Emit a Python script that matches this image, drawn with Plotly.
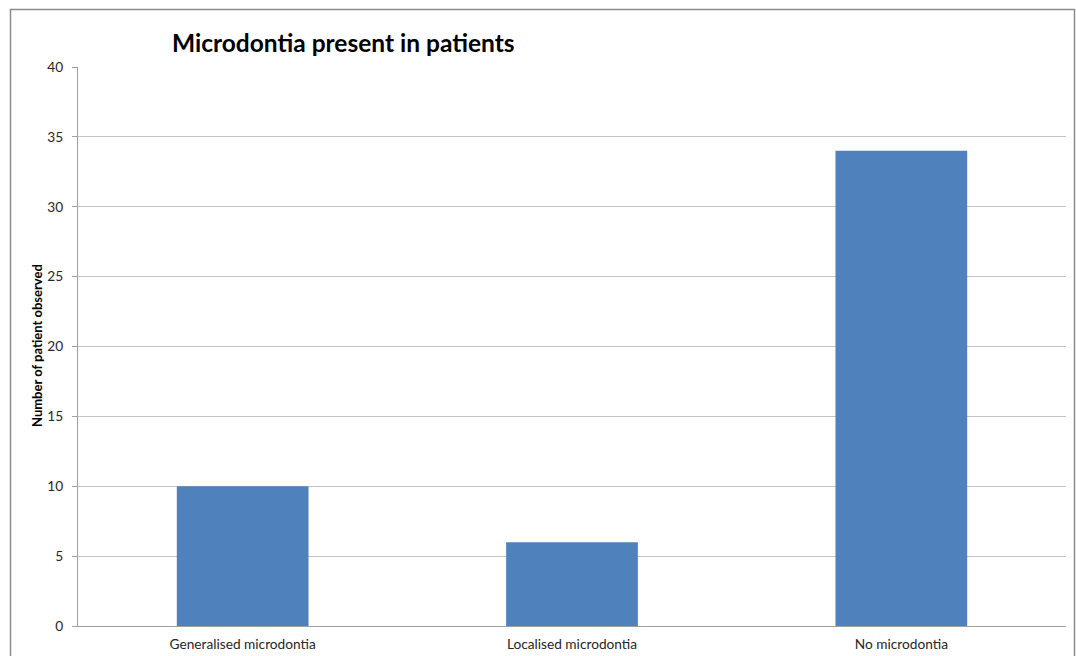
import plotly.graph_objects as go

categories = ["Generalised microdontia", "Localised microdontia", "No microdontia"]
patients = [10, 6, 34]
y_ticks = [0, 5, 10, 15, 20, 25, 30, 35, 40]

W, H = 1076, 656
L, R, T, B = 78, 10, 67, 30
pw, ph = W - L - R, H - T - B

def px_x(p):
    return (p - L) / pw

def px_y(p):
    return (H - B - p) / ph

fig = go.Figure(go.Bar(
    x=categories, y=patients, width=0.4,
    marker=dict(color="#4F81BD", line=dict(width=0)),
))

fig.update_layout(
    width=W, height=H,
    margin=dict(l=L, r=R, t=T, b=B, autoexpand=False),
    paper_bgcolor="white", plot_bgcolor="white",
    showlegend=False,
    font=dict(family="Lato", size=13, color="#262626"),
    title=dict(
        text="<b>Microdontia present in patients</b>",
        x=172 / W, xanchor="left", xref="container",
        y=1 - 43 / H, yanchor="middle",
        font=dict(family="Lato", size=24.5, color="#000000"),
    ),
    xaxis=dict(
        showline=True, linecolor="#A0A0A0", linewidth=1, automargin=False,
        showgrid=False, ticks="outside", ticklen=6, tickcolor="rgba(0,0,0,0)",
        tickfont=dict(size=13.7, color="#262626"),
        range=[-0.5, 2.5],
    ),
    yaxis=dict(
        range=[0, 40], tickvals=y_ticks, showgrid=True, gridcolor="#C4C4C4",
        gridwidth=1, showline=True, linecolor="#A0A0A0", linewidth=1,
        automargin=False,
        ticks="outside", ticklen=5, tickcolor="#A0A0A0", ticklabelstandoff=6,
        tickfont=dict(size=13.7, color="#262626"), zeroline=False,
    ),
    annotations=[dict(
        text="<b>Number of patient observed</b>", textangle=-90,
        x=px_x(37), y=px_y(346), xref="paper", yref="paper",
        xanchor="center", yanchor="middle", showarrow=False,
        font=dict(family="Lato", size=13, color="#000000"),
    )],
    shapes=[dict(
        type="rect", xref="paper", yref="paper",
        x0=px_x(10.5), x1=px_x(1074.5), y0=px_y(670), y1=px_y(9.5),
        line=dict(color="#8C8C8C", width=1.5), fillcolor="rgba(0,0,0,0)",
        layer="below",
    )],
)

fig.write_html("out.html")
